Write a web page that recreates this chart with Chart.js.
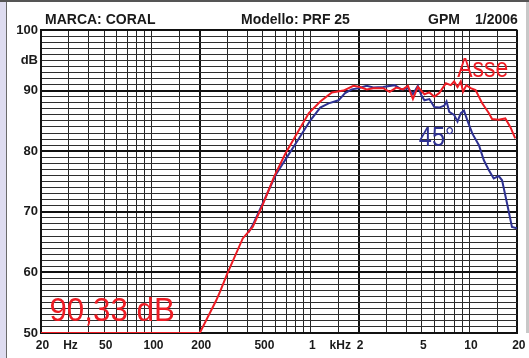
<!DOCTYPE html>
<html>
<head>
<meta charset="utf-8">
<script src="https://cdn.jsdelivr.net/npm/chart.js"></script>
<style>
  html, body { margin: 0; padding: 0; background: #fff; }
  #wrap { position: relative; width: 529px; height: 358px; }
  canvas { display: block; }
</style>
</head>
<body>
<div id="wrap"><canvas id="c" width="529" height="358"></canvas></div>
<script>
// frequency response
const redFreq = [20, 200, 254, 270, 298, 373, 431, 497, 588, 695, 822, 973, 1148, 1359, 1608, 1858, 2043, 2250, 2474, 2857, 3142, 3458, 3810, 4094, 4400, 4725, 5200, 5585, 6000, 6445, 7095, 7620, 8000, 8400, 8810, 9100, 9550, 10160, 10920, 12020, 13220, 13870, 15270, 16800, 18060, 19410];
const redDb = [50, 50, 55.4, 57.0, 59.8, 65.6, 67.5, 71.1, 75.8, 79.7, 83.0, 86.3, 88.2, 89.7, 90.0, 90.8, 90.6, 90.2, 90.4, 90.4, 89.8, 90.5, 90.2, 90.8, 88.6, 90.6, 89.4, 89.7, 89.0, 89.6, 91.2, 90.9, 91.5, 90.6, 91.5, 89.8, 90.9, 90.4, 90.1, 87.9, 86.3, 85.3, 85.2, 85.4, 84.0, 82.1];

const blueFreq = [405, 431, 509, 602, 712, 842, 995, 1148, 1295, 1496, 1645, 1812, 1995, 2250, 2474, 2857, 3375, 3715, 4094, 4400, 4725, 4955, 5200, 5585, 6000, 6445, 6925, 7165, 7450, 8000, 8400, 8810, 9230, 9690, 10420, 11460, 12310, 13220, 14200, 15270, 16030, 17220, 18500, 19880];
const blueDb = [66.6, 67.8, 71.9, 76.1, 79.1, 82.1, 85.1, 87.2, 87.9, 88.4, 89.6, 90.2, 90.4, 90.8, 90.5, 90.6, 90.9, 90.2, 90.4, 89.4, 90.8, 89.3, 88.4, 88.6, 87.3, 87.2, 87.5, 88.2, 86.5, 86.0, 84.9, 86.3, 86.7, 85.1, 82.9, 81.0, 78.5, 76.9, 75.5, 75.9, 75.2, 71.4, 67.5, 67.3];

// grid and tick labels
const gridFreqs = [20, 30, 40, 50, 60, 70, 80, 90, 100, 150, 200, 300, 400, 500, 600, 700, 800, 900, 1000, 1500, 2000, 3000, 4000, 5000, 6000, 7000, 8000, 9000, 10000, 15000, 20000];
const xLabelFreqs = [20, 30, 50, 100, 200, 500, 1000, 1500, 2000, 5000, 10000, 20000];
const xLabelText = ['20', 'Hz', '50', '100', '200', '500', '1', 'kHz', '2', '5', '10', '20'];
const yLabelValues = [100, 95, 90, 80, 70, 60, 50];
const yLabelText = ['100', 'dB', '90', '80', '70', '60', '50'];

const headerText = ['MARCA: CORAL', 'Modello: PRF 25', 'GPM', '1/2006'];
const noteText = ['Asse', '45\u00b0', '90,33 dB'];
const noteFreq = [8375, 4795, 22.6];
const noteDb = [92.2, 80.9, 51.9];

const RED = '#ed1c24';
const BLUE = '#2e3192';
const FONT = '"Liberation Sans", Arial, Helvetica, sans-serif';

const toPoints = (fs, ds) => fs.map((f, i) => ({ x: f, y: ds[i] }));

const framePlugin = {
  id: 'frame',
  beforeDraw(chart) {
    const ctx = chart.ctx;
    ctx.save();
    ctx.fillStyle = '#ffffff';
    ctx.fillRect(0, 0, chart.width, chart.height);
    ctx.fillStyle = '#dedcf0';
    ctx.fillRect(0, 0, 6, chart.height);
    ctx.fillStyle = '#6a6a6a';
    ctx.fillRect(6, 0, 1, chart.height);
    ctx.fillStyle = '#555555';
    ctx.fillRect(0, 0, chart.width, 2);
    ctx.fillStyle = '#c8c8c8';
    ctx.fillRect(chart.width - 3, 2, 3, 331);
    ctx.restore();
  }
};

const textPlugin = {
  id: 'texts',
  afterDraw(chart) {
    const ctx = chart.ctx;
    const xs = chart.scales.x, ys = chart.scales.y;
    ctx.save();
    ctx.fillStyle = '#1a1a1a';
    ctx.font = 'bold 14px ' + FONT;
    ctx.textBaseline = 'alphabetic';
    ctx.textAlign = 'left';
    const hx = [45, 241, 428, 475];
    headerText.forEach((t, i) => ctx.fillText(t, hx[i], 23.5));

    const sizes = [27, 27, 33];
    const squeeze = [0.85, 0.87, 0.95];
    const colors = [RED, BLUE, RED];
    noteText.forEach((t, i) => {
      const px = xs.getPixelForValue(noteFreq[i]);
      const py = ys.getPixelForValue(noteDb[i]);
      ctx.save();
      ctx.translate(px, py);
      ctx.scale(squeeze[i], 1);
      ctx.font = sizes[i] + 'px ' + FONT;
      ctx.fillStyle = colors[i];
      ctx.fillText(t, 0, 0);
      ctx.restore();
    });
    ctx.restore();
  }
};

new Chart(document.getElementById('c'), {
  type: 'line',
  data: {
    datasets: [
      {
        label: 'Asse',
        data: toPoints(redFreq, redDb),
        borderColor: RED,
        borderWidth: 2,
        pointRadius: 0,
        tension: 0,
        fill: false
      },
      {
        label: '45\u00b0',
        data: toPoints(blueFreq, blueDb),
        borderColor: BLUE,
        borderWidth: 2,
        pointRadius: 0,
        tension: 0,
        fill: false
      }
    ]
  },
  options: {
    responsive: false,
    animation: false,
    devicePixelRatio: 1,
    layout: { padding: { top: 30, right: 7, bottom: 0, left: 0 } },
    plugins: {
      legend: { display: false },
      tooltip: { enabled: false },
      title: { display: false }
    },
    scales: {
      x: {
        type: 'logarithmic',
        min: 20,
        max: 20000,
        afterBuildTicks: (axis) => { axis.ticks = gridFreqs.map(v => ({ value: v })); },
        afterFit: (scale) => { scale.height = 25; },
        grid: {
          drawTicks: false,
          color: (c) => [20, 200, 2000, 20000].includes(c.tick && c.tick.value) ? '#111' : '#262626',
          lineWidth: (c) => [20, 200, 2000, 20000].includes(c.tick && c.tick.value) ? 2 : 1
        },
        border: { display: true, color: '#111', width: 2 },
        ticks: {
          autoSkip: false,
          maxRotation: 0,
          padding: 5,
          labelOffset: 1.5,
          color: '#1a1a1a',
          font: { family: FONT, size: 12, weight: 'bold' },
          callback: (v) => {
            const i = xLabelFreqs.indexOf(v);
            return i >= 0 ? xLabelText[i] : '';
          }
        }
      },
      y: {
        type: 'linear',
        min: 50,
        max: 100,
        afterFit: (scale) => { scale.width = 41; },
        grid: {
          drawTicks: false,
          color: (c) => (c.tick && c.tick.value % 10 === 0) ? '#111' : '#2e2e2e',
          lineWidth: (c) => (c.tick && c.tick.value % 10 === 0) ? 2 : 1
        },
        border: { display: true, color: '#111', width: 2 },
        ticks: {
          stepSize: 1,
          autoSkip: false,
          padding: 3,
          color: '#1a1a1a',
          font: { family: FONT, size: 13, weight: 'bold' },
          callback: (v) => {
            const i = yLabelValues.indexOf(v);
            return i >= 0 ? yLabelText[i] : '';
          }
        }
      }
    }
  },
  plugins: [framePlugin, textPlugin]
});
</script>
</body>
</html>
